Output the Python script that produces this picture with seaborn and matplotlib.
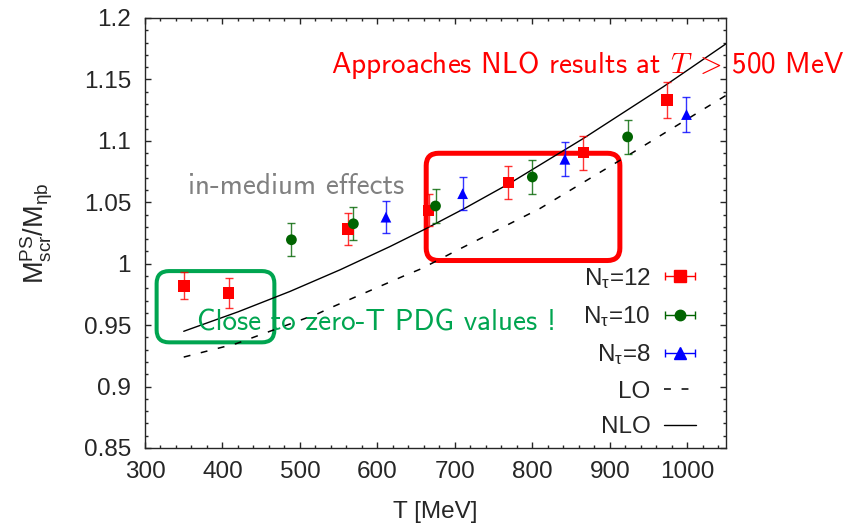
import numpy as np
import matplotlib
matplotlib.use("Agg")
import matplotlib.pyplot as plt
import seaborn as sns
from matplotlib.patches import FancyBboxPatch
from matplotlib.ticker import MultipleLocator, FuncFormatter
from matplotlib.legend_handler import HandlerErrorbar
from matplotlib.container import ErrorbarContainer
from matplotlib.lines import Line2D

# N_tau = 12 lattice points
t12 = [350, 408, 562, 666, 769, 866, 974]
m12 = [0.982, 0.976, 1.0285, 1.0434, 1.066, 1.0904, 1.1331]
e12 = [0.011, 0.0124, 0.013, 0.013, 0.0136, 0.0139, 0.0145]

# N_tau = 10
t10 = [489, 569, 675, 800, 923]
m10 = [1.0195, 1.0325, 1.047, 1.0706, 1.1032]
e10 = [0.0133, 0.0133, 0.0136, 0.0136, 0.014]

# N_tau = 8
t8 = [611, 710, 842, 999]
m8 = [1.0379, 1.057, 1.085, 1.1214]
e8 = [0.013, 0.0136, 0.0139, 0.0143]

# perturbative curves
t_lo = [350, 418, 522, 539, 634, 657, 700, 810, 918, 1050]
m_lo = [0.924, 0.935, 0.959, 0.964, 0.990, 0.996, 1.010, 1.045, 1.086, 1.137]
t_nlo = [350, 420, 487, 552, 616, 661, 711, 771, 866, 969, 1050]
m_nlo = [0.945, 0.9608, 0.9774, 0.9951, 1.0139, 1.028, 1.0445, 1.0655, 1.102, 1.144, 1.179]

xticks = [300, 400, 500, 600, 700, 800, 900, 1000]
yticks = [0.85, 0.9, 0.95, 1.0, 1.05, 1.1, 1.15, 1.2]

RED, GREEN, BLUE = "#ff0000", "#006400", "#0000ff"
FS = 17.5

sns.set_style("ticks")
plt.rcParams["font.family"] = ["Liberation Sans", "DejaVu Sans"]
plt.rcParams["mathtext.fontset"] = "custom"
plt.rcParams["mathtext.rm"] = "Liberation Sans"
plt.rcParams["mathtext.it"] = "Liberation Sans:italic"
plt.rcParams["mathtext.sf"] = "Liberation Sans"

W, H = 846, 525
fig = plt.figure(figsize=(W / 100, H / 100), dpi=100)
ax = fig.add_axes([145 / W, 1 - 448 / H, (726 - 145) / W, (448 - 18) / H])

xlim, ylim = (300, 1050), (0.85, 1.2)
ax.set_xlim(*xlim)
ax.set_ylim(*ylim)

# curves
sns.lineplot(x=t_nlo, y=m_nlo, ax=ax, color="black", lw=1.0, sort=False, zorder=3)
sns.lineplot(x=t_lo, y=m_lo, ax=ax, color="black", lw=1.1, sort=False,
             linestyle=(0, (4.5, 7)), zorder=3)

# data with error bars
for t, m, e, c, mk, ms in [(t12, m12, e12, RED, "s", 70),
                           (t10, m10, e10, GREEN, "o", 60),
                           (t8, m8, e8, BLUE, "^", 60)]:
    ax.errorbar(t, m, yerr=e, fmt="none", ecolor=c, elinewidth=1.0,
                capsize=3, capthick=1.0, alpha=0.8, zorder=4)
    sns.scatterplot(x=t, y=m, ax=ax, color=c, marker=mk, s=ms,
                    edgecolor="none", zorder=5)

# rounded boxes (axes size in px -> aspect for rounding)
asp = ((ylim[1] - ylim[0]) / 430) / ((xlim[1] - xlim[0]) / 581)
rad = 16
gbox = FancyBboxPatch((315, 0.936), 467 - 315, 0.994 - 0.936,
                      boxstyle=f"round,pad=0,rounding_size={rad}",
                      mutation_aspect=asp, fill=False, ec="#00a550", lw=2.9,
                      clip_on=False, zorder=2)
rbox = FancyBboxPatch((663, 1.0026), 913 - 663, 1.0899 - 1.0026,
                      boxstyle=f"round,pad=0,rounding_size={rad}",
                      mutation_aspect=asp, fill=False, ec=RED, lw=3.6,
                      clip_on=False, zorder=2)
ax.add_patch(gbox)
ax.add_patch(rbox)

# annotations
ax.text(540, 1.1617, r"Approaches NLO results at $T\;>\,$500 MeV", color=RED,
        fontsize=21, family="cmss10", math_fontfamily="cm", va="center", ha="left")
ax.text(355, 1.063, "in-medium effects", color="#808080", fontsize=21,
        family="cmss10", va="center", ha="left")
ax.text(367, 0.952, "Close to zero-T PDG values !", color="#00a550", fontsize=21,
        family="cmss10", va="center", ha="left", zorder=6)

# axes styling
ax.set_xticks(xticks)
ax.set_yticks(yticks)
ax.xaxis.set_minor_locator(MultipleLocator(20))
ax.yaxis.set_minor_locator(MultipleLocator(0.01))
ax.yaxis.set_major_formatter(FuncFormatter(lambda v, p: f"{v:g}"))
ax.tick_params(which="both", direction="in", top=True, right=True, width=1.0,
               labelsize=FS)
ax.tick_params(which="major", length=4.5)
ax.tick_params(which="minor", length=2.4)
ax.tick_params(axis="y", pad=10)
ax.tick_params(axis="x", pad=9)
for sp in ax.spines.values():
    sp.set_linewidth(1.0)
    sp.set_visible(True)

ax.set_xlabel("T [MeV]", fontsize=FS, labelpad=13)
ax.set_ylabel(r"M$^{\mathrm{PS}}_{\mathrm{scr}}$/M$_{\mathrm{\eta b}}$", fontsize=19.5,
              labelpad=21)

# legend, gnuplot style: label first, horizontal error bar sample
h12 = ax.errorbar([np.nan], [np.nan], xerr=[1], fmt="s", color=RED, ms=8,
                  capsize=3, elinewidth=1.0)
h10 = ax.errorbar([np.nan], [np.nan], xerr=[1], fmt="o", color=GREEN, ms=7.5,
                  capsize=3, elinewidth=1.0)
h8 = ax.errorbar([np.nan], [np.nan], xerr=[1], fmt="^", color=BLUE, ms=8,
                 capsize=3, elinewidth=1.0)
hlo = Line2D([], [], color="black", lw=1.1, linestyle=(0, (4.5, 7)))
hnlo = Line2D([], [], color="black", lw=1.0)
ax.legend([h12, h10, h8, hlo, hnlo],
          [r"N$_{\mathrm{\tau}}$=12", r"N$_{\mathrm{\tau}}$=10",
           r"N$_{\mathrm{\tau}}$=8", "LO", "NLO"],
          handler_map={ErrorbarContainer: HandlerErrorbar(xerr_size=0.62)},
          loc="upper right", bbox_to_anchor=(0.977, 0.463), frameon=False,
          markerfirst=False, fontsize=FS, handlelength=1.3,
          handletextpad=0.55, labelspacing=0.55, borderpad=0.2)

fig.savefig("out.png", dpi=100)
